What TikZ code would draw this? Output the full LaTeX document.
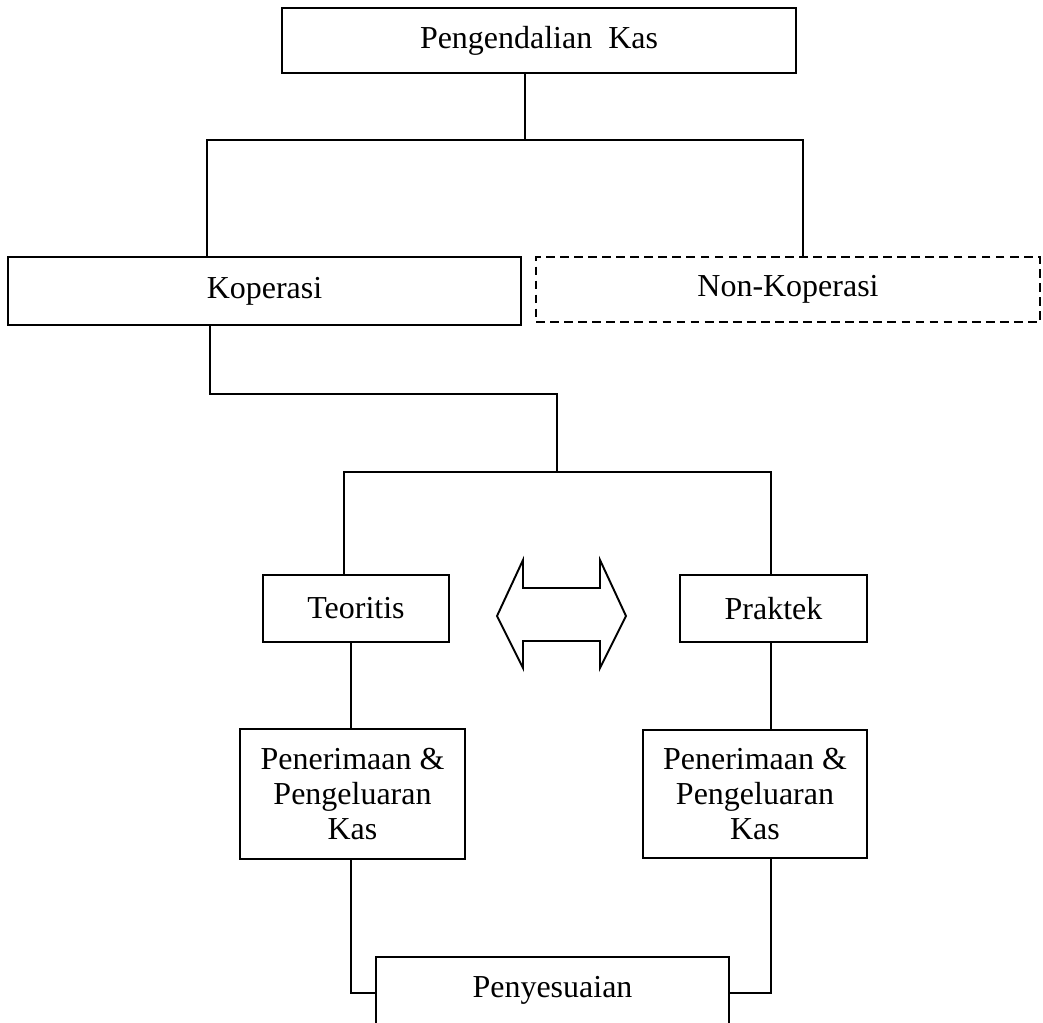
\documentclass[tikz,border=0pt]{standalone}
\usepackage{fontspec}
\setmainfont{Liberation Serif}

\begin{document}
\begin{tikzpicture}[x=0.02cm, y=-0.02cm, line width=1.1pt,
  every node/.style={draw, rectangle, inner sep=2pt, align=center, font=\fontsize{18.2}{20.1}\selectfont},
  dashbox/.style={dashed, line width=1.5pt, dash pattern=on 5pt off 3pt}]
\useasboundingbox (0,0) rectangle (1043,1022);
\clip (0,0) rectangle (1043,1022);
\node (kas) at (539,40.5) [minimum width=10.28cm, minimum height=1.3cm] {Pengendalian~~Kas};
\node (kop) at (264.5,291) [minimum width=10.26cm, minimum height=1.36cm] {Koperasi};
\node (nonkop) at (788,289.5) [dashbox, minimum width=10.08cm, minimum height=1.3cm] {Non-Koperasi};
\node (teo) at (356,608.5) [minimum width=3.72cm, minimum height=1.34cm] {Teoritis};
\node (prak) at (773.5,608.5) [minimum width=3.74cm, minimum height=1.34cm] {Praktek};
\node (pen1) at (352.5,794) [minimum width=4.5cm, minimum height=2.6cm] {Penerimaan \&\\Pengeluaran\\Kas};
\node (pen2) at (755,794) [minimum width=4.48cm, minimum height=2.56cm] {Penerimaan \&\\Pengeluaran\\Kas};
\node (pny) at (552.5,1005) [minimum width=7.06cm, minimum height=1.92cm, text height=0.42cm, text depth=0.74cm] {Penyesuaian};
\coordinate (a) at (525,140);
\coordinate (l1) at (207,140);
\coordinate (r1) at (803,140);
\coordinate (l2) at (210,394);
\coordinate (m2) at (557,394);
\coordinate (m3) at (557,472);
\coordinate (l3) at (344,472);
\coordinate (r3) at (771,472);
\coordinate (l4) at (351,993);
\coordinate (r4) at (771,993);
\draw (kas.south -| a) -- (a);
\draw (kop.north -| l1) -- (l1) -- (r1) -- (nonkop.north -| r1);
\draw (kop.south -| l2) -- (l2) -- (m2) -- (m3);
\draw (teo.north -| l3) -- (l3) -- (r3) -- (prak.north -| r3);
\draw (teo.south -| l4) -- (pen1.north -| l4);
\draw (prak.south -| r3) -- (pen2.north -| r3);
\draw (pen1.south -| l4) -- (l4) -- (pny.west |- l4);
\draw (pen2.south -| r4) -- (r4) -- (pny.east |- r4);
\draw (497,616) -- (523,560) -- (523,588) -- (600,588) -- (600,560) -- (626,616) -- (600,668) -- (600,641) -- (523,641) -- (523,668) -- cycle;
\end{tikzpicture}
\end{document}
